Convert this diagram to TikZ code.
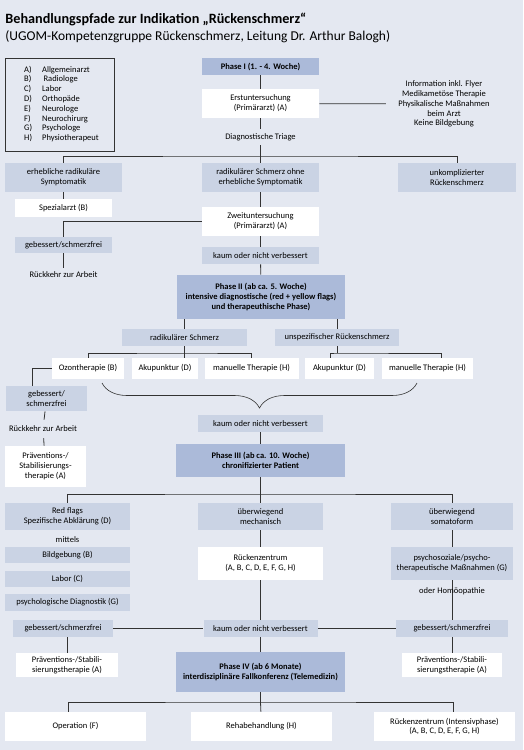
\documentclass[tikz,border=0pt]{standalone}
\usepackage{fontspec}
\setmainfont{Carlito}
\usetikzlibrary{decorations.pathreplacing}
\definecolor{bgcol}{HTML}{E4E8F1}
\definecolor{greybox}{HTML}{CAD3E4}
\definecolor{phasebox}{HTML}{ABBAD9}
\definecolor{linecol}{HTML}{333333}
\begin{document}
\begin{tikzpicture}[x=1pt,y=-1pt,
  line width=0.8pt,
  every node/.style={font=\fontsize{8.5}{9.8}\selectfont,align=center,inner sep=1.5pt},
  box/.style={rectangle,inner sep=0pt},
  gbox/.style={box,fill=greybox},
  wbox/.style={box,fill=white},
  pbox/.style={box,fill=phasebox,font=\fontsize{8.5}{9.8}\selectfont\bfseries},
  conn/.style={draw=linecol}]

  \fill[bgcol] (0,0) rectangle (523,750);
  \useasboundingbox (0,0) rectangle (523,750);

  % title
  \node[anchor=west,inner sep=0pt,font=\fontsize{14.2}{16}\selectfont\bfseries] (title) at (5,19) {Behandlungspfade zur Indikation „Rückenschmerz“};
  \node[anchor=west,inner sep=0pt,font=\fontsize{13.5}{16}\selectfont] (subtitle) at (5,37) {(UGOM-Kompetenzgruppe Rückenschmerz, Leitung Dr. Arthur Balogh)};

  % legend
  \node[box,draw=linecol,minimum width=109pt,minimum height=93pt,align=left] (legend) at (59.5,104.5)
   {\begin{tabular}{@{\hspace{4pt}}l@{\hspace{10pt}}l@{}}
    A) & Allgemeinarzt\\ B) & \,Radiologe\\ C) & Labor\\ D) & Orthopäde\\
    E) & Neurologe\\ F) & Neurochirurg\\ G) & Psychologe\\ H) & Physiotherapeut
   \end{tabular}};

  % phase I
  \node[pbox,minimum width=117pt,minimum height=17pt] (phase1) at (260.5,66.5) {Phase I (1. - 4. Woche)};
  \node[wbox,minimum width=117pt,minimum height=29pt] (erst) at (260.5,103.5) {Erstuntersuchung\\(Primärarzt) (A)};
  \node[inner xsep=12pt] (info) at (444,104) {Information inkl. Flyer\\Medikametöse Therapie\\Physikalische Maßnahmen\\beim Arzt\\Keine Bildgebung};
  \node[inner ysep=4pt] (triage) at (260.5,137) {Diagnostische Triage};
  \coordinate (t1) at (260.5,156);

  \node[gbox,minimum width=117pt,minimum height=29pt] (sym1) at (63.5,177.5) {erhebliche radikuläre\\Symptomatik};
  \node[gbox,minimum width=117pt,minimum height=29pt] (sym2) at (260.5,177.5) {radikulärer Schmerz ohne\\erhebliche Symptomatik};
  \node[gbox,minimum width=118pt,minimum height=29pt] (sym3) at (457,177.5) {unkomplizierter\\Rückenschmerz};
  \node[wbox,minimum width=97pt,minimum height=18pt] (spez) at (63.5,208) {Spezialarzt (B)};
  \node[wbox,minimum width=117pt,minimum height=29pt] (zweit) at (260.5,221.5) {Zweituntersuchung\\(Primärarzt) (A)};
  \node[gbox,minimum width=97pt,minimum height=16pt] (geb1) at (63.5,245) {gebessert/schmerzfrei};
  \node[inner ysep=4pt] (rueck1) at (63.5,275) {Rückkehr zur Arbeit};
  \node[gbox,minimum width=117pt,minimum height=17pt] (kaum1) at (260.5,255.5) {kaum oder nicht verbessert};

  % phase II
  \node[pbox,minimum width=168pt,minimum height=44pt] (phase2) at (261,297) {Phase II (ab ca. 5. Woche)\\intensive diagnostische (red + yellow flags)\\und therapeuthische Phase)};
  \node[gbox,minimum width=125pt,minimum height=17pt] (radi) at (184.5,337.5) {radikulärer Schmerz};
  \node[gbox,minimum width=124pt,minimum height=17pt] (unspez) at (337,337.5) {unspezifischer Rückenschmerz};
  \coordinate (r1) at (184.5,353);
  \coordinate (u1) at (337,353);
  \node[wbox,minimum width=72pt,minimum height=21pt] (ozon) at (88,368.5) {Ozontherapie (B)};
  \node[wbox,minimum width=66pt,minimum height=21pt] (aku1) at (165,368.5) {Akupunktur (D)};
  \node[wbox,minimum width=94pt,minimum height=21pt] (man1) at (251.5,368.5) {manuelle Therapie (H)};
  \node[wbox,minimum width=69pt,minimum height=21pt] (aku2) at (339.5,368.5) {Akupunktur (D)};
  \node[wbox,minimum width=91pt,minimum height=21pt] (man2) at (427.5,368.5) {manuelle Therapie (H)};
  \node[gbox,minimum width=81pt,minimum height=25pt] (geb2) at (46.5,398.5) {gebessert/\\schmerzfrei};
  \node[inner ysep=6pt] (rueck2) at (43,429) {Rückkehr zur Arbeit};
  \node[wbox,minimum width=81pt,minimum height=41pt] (praev1) at (45.5,466.5) {Präventions-/\\Stabilisierungs-\\therapie (A)};
  \coordinate (bl) at (102,383);
  \coordinate (br) at (417,383);
  \node[gbox,minimum width=125pt,minimum height=17pt] (kaum2) at (260.5,423.5) {kaum oder nicht verbessert};

  % phase III
  \node[pbox,minimum width=169pt,minimum height=33pt] (phase3) at (260.5,460.5) {Phase III (ab ca. 10. Woche)\\chronifizierter Patient};
  \coordinate (t3) at (260.5,494);
  \node[gbox,minimum width=125pt,minimum height=27pt] (red) at (67.5,516.5) {Red flags\\Spezifische Abklärung (D)};
  \node[gbox,minimum width=125pt,minimum height=27pt] (mech) at (260.5,516.5) {überwiegend\\mechanisch};
  \node[gbox,minimum width=122pt,minimum height=27pt] (soma) at (452,516.5) {überwiegend\\somatoform};
  \node (mittels) at (67.5,540) {mittels};
  \node[gbox,minimum width=125pt,minimum height=16pt] (bild) at (67.5,555) {Bildgebung (B)};
  \node[gbox,minimum width=125pt,minimum height=16pt] (labor) at (67.5,579) {Labor (C)};
  \node[gbox,minimum width=125pt,minimum height=17pt] (psych) at (67.5,602.5) {psychologische Diagnostik (G)};
  \node[wbox,minimum width=125pt,minimum height=33pt] (rzent) at (260.5,563.5) {Rückenzentrum\\(A, B, C, D, E, F, G, H)};
  \node[gbox,minimum width=122pt,minimum height=33pt] (psoz) at (452,563.5) {psychosoziale/psycho-\\therapeutische Maßnahmen (G)};
  \node[gbox,minimum width=100pt,minimum height=17pt] (geb3) at (63,628.5) {gebessert/schmerzfrei};
  \node[gbox,minimum width=114pt,minimum height=17pt] (kaum3) at (260.5,628.5) {kaum oder nicht verbessert};
  \node[gbox,minimum width=112pt,minimum height=17pt] (geb4) at (452,628.5) {gebessert/schmerzfrei};
  \node[wbox,minimum width=102pt,minimum height=24pt] (praev2) at (67,665) {Präventions-/Stabili-\\sierungstherapie (A)};
  \node[wbox,minimum width=100pt,minimum height=24pt] (praev3) at (452,665) {Präventions-/Stabili-\\sierungstherapie (A)};

  % phase IV
  \node[pbox,minimum width=169pt,minimum height=40pt] (phase4) at (260.5,672) {Phase IV (ab 6 Monate)\\interdisziplinäre Fallkonferenz (Telemedizin)};
  \coordinate (t4) at (260.5,702);
  \node[wbox,minimum width=141pt,minimum height=29pt] (op) at (75.5,726.5) {Operation (F)};
  \node[wbox,minimum width=141pt,minimum height=29pt] (reha) at (261.5,726.5) {Rehabehandlung (H)};
  \node[wbox,minimum width=141pt,minimum height=29pt] (rz2) at (444.5,726.5) {Rückenzentrum (Intensivphase)\\(A, B, C, D, E, F, G, H)};

  % connectors
  \path[conn]
   (phase1) edge (erst)
   (erst) edge (info)
   (erst) edge (triage)
   (triage) edge (t1)
   (t1) edge (sym2)
   (sym1) edge (spez)
   (sym2) edge (zweit)
   (geb1) edge (rueck1)
   (zweit) edge (kaum1)
   (kaum1) edge (phase2)
   (unspez) edge (u1)
   (geb2) edge (rueck2)
   (rueck2) edge (praev1)
   (kaum2) edge (phase3)
   (phase3) edge (t3)
   (t3) edge (mech)
   (mech) edge (rzent)
   (rzent) edge (kaum3)
   (soma) edge (psoz)
   (psoz) edge (geb4)
   (geb3) edge (kaum3)
   (kaum3) edge (geb4)
   (geb4) edge (praev3)
   (kaum3) edge (phase4)
   (phase4) edge (t4)
   (t4) edge (reha);
  \draw[conn] (sym1) |- (t1) -| (sym3);
  \draw[conn] (zweit) -| (geb1);
  \draw[conn] (radi.north) -- (radi.north |- phase2.south);
  \draw[conn] (unspez.north) -- (unspez.north |- phase2.south);
  \draw[conn] (radi.south) -- (radi.south |- aku1.north);
  \draw[conn] (ozon) |- (r1) -| (man1);
  \draw[conn] ([xshift=-9.5pt]aku2.north) |- (u1) -| ([xshift=13.5pt]man2.north);
  \draw[conn] (ozon.west) -| ([xshift=-14.5pt]geb2.north);
  \draw[conn] (red) |- (t3) -| (soma);
  \draw[conn] (praev2.north) -- (praev2.north |- geb3.south);
  \draw[conn] ([xshift=-7.5pt]op.north) |- (t4) -| ([xshift=8.5pt]rz2.north);
  \draw[conn,line width=0.6pt,decorate,decoration={brace,mirror,amplitude=25pt}] (bl) -- (br);
  \node (homoe) at (452,591) {oder Homöopathie};
\end{tikzpicture}
\end{document}
